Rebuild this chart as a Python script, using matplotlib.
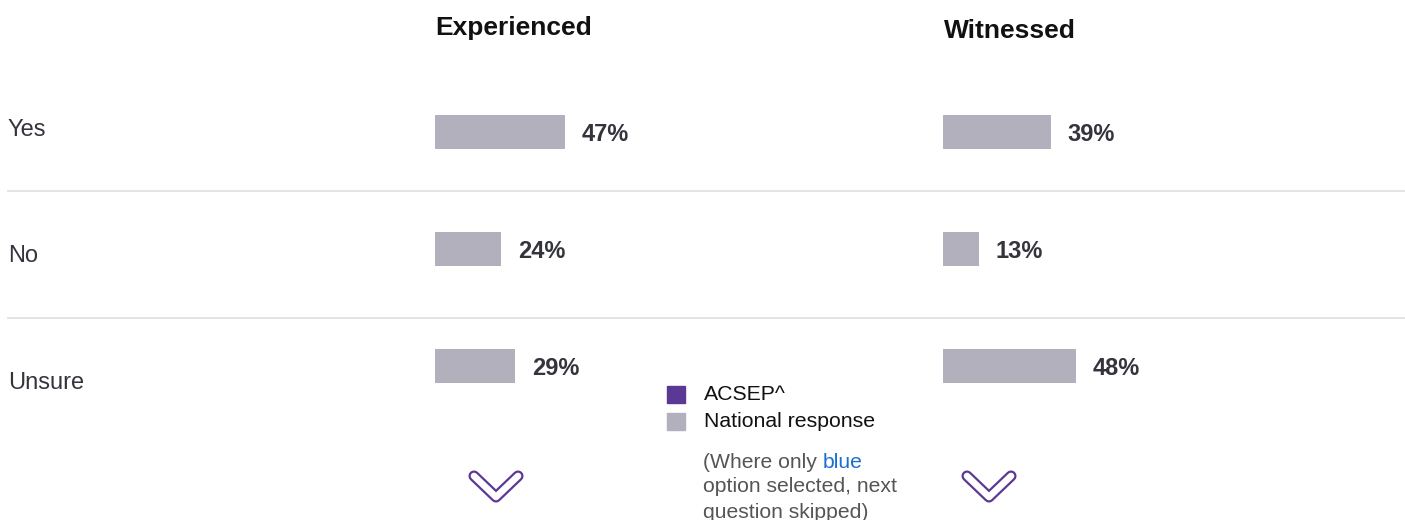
import matplotlib
matplotlib.use("Agg")
import matplotlib.pyplot as plt
from matplotlib.lines import Line2D

plt.rcParams['font.family'] = ['Liberation Sans', 'DejaVu Sans']

# ---- data ----
categories = ["Yes", "No", "Unsure"]
panel_titles = ["Experienced", "Witnessed"]
experienced = [47, 24, 29]
witnessed = [39, 13, 48]
legend_labels = ["ACSEP^", "National response"]

W, H = 1405, 520
fig = plt.figure(figsize=(W / 100, H / 100), dpi=100)

def fx(px):
    return px / W

def fy(py):
    return 1 - py / H

BAR_COLOR = "#b1b0bc"
PURPLE = "#5b3894"
TXT = "#33343c"

# axes geometry: rows centred at 132, 249, 366 px; 2.766 px per percent
row_gap = 117.0
y_top = 132 - row_gap / 2
y_bot = 366 + row_gap / 2
px_per_pct = 2.766
ax_w = 100 * px_per_pct

panels = [(435, experienced), (943, witnessed)]
for left, vals in panels:
    ax = fig.add_axes([fx(left), fy(y_bot), ax_w / W, (y_bot - y_top) / H])
    ypos = list(range(len(categories)))
    ax.barh(ypos, vals, height=34 / row_gap, color=BAR_COLOR, align="center")
    for y, v in zip(ypos, vals):
        ax.annotate(f"{v}%", xy=(v, y), xytext=(17, -2.5), textcoords="offset pixels",
                    ha="left", va="center", fontsize=17, fontweight="bold", color=TXT)
    ax.set_xlim(0, 100)
    ax.set_ylim(len(categories) - 0.5, -0.5)
    ax.axis("off")

# titles
fig.text(fx(435), fy(28.5), panel_titles[0], fontsize=19, fontweight="bold",
         color="#111111", ha="left", va="center")
fig.text(fx(944), fy(31.5), panel_titles[1], fontsize=19, fontweight="bold",
         color="#111111", ha="left", va="center")

# row labels
for lab, py in zip(categories, [130, 256, 383]):
    fig.text(fx(8), fy(py), lab, fontsize=17, color=TXT, ha="left", va="center")

# separator lines
for py in [191, 318]:
    fig.add_artist(Line2D([fx(8), fx(1405)], [fy(py), fy(py)], color="#e2e2e2", lw=1.3))

# legend
for (col, py), lab in zip([(PURPLE, 394.5), (BAR_COLOR, 421.5)], legend_labels):
    fig.patches.append(plt.Rectangle((fx(667), fy(py + 8.5)), 18 / W, 17 / H,
                                     transform=fig.transFigure, color=col, figure=fig))
    fig.text(fx(704), fy(py), lab, fontsize=15.3, color="#111111", ha="left", va="center")

# note
note_color = "#555555"
note_fs = 15.2
t1 = fig.text(fx(703), fy(462), "(Where only ", fontsize=note_fs, color=note_color,
              ha="left", va="center")
fig.canvas.draw()
bb = t1.get_window_extent()
fig.text(bb.x1 / W, fy(462), "blue", fontsize=note_fs, color="#1a6fd0", ha="left", va="center")
fig.text(fx(703), fy(487), "option selected, next", fontsize=note_fs, color=note_color,
         ha="left", va="center")
fig.text(fx(703), fy(512), "question skipped)", fontsize=note_fs, color=note_color,
         ha="left", va="center")

# chevrons
for cx in [496, 989]:
    xs = [fx(cx - 22), fx(cx), fx(cx + 22)]
    ys = [fy(476), fy(497), fy(476)]
    fig.add_artist(Line2D(xs, ys, color=PURPLE, lw=8, solid_capstyle="round",
                          solid_joinstyle="round"))
    fig.add_artist(Line2D(xs, ys, color="white", lw=4.8, solid_capstyle="round",
                          solid_joinstyle="round"))

fig.savefig("out.png", dpi=100, facecolor="white")
